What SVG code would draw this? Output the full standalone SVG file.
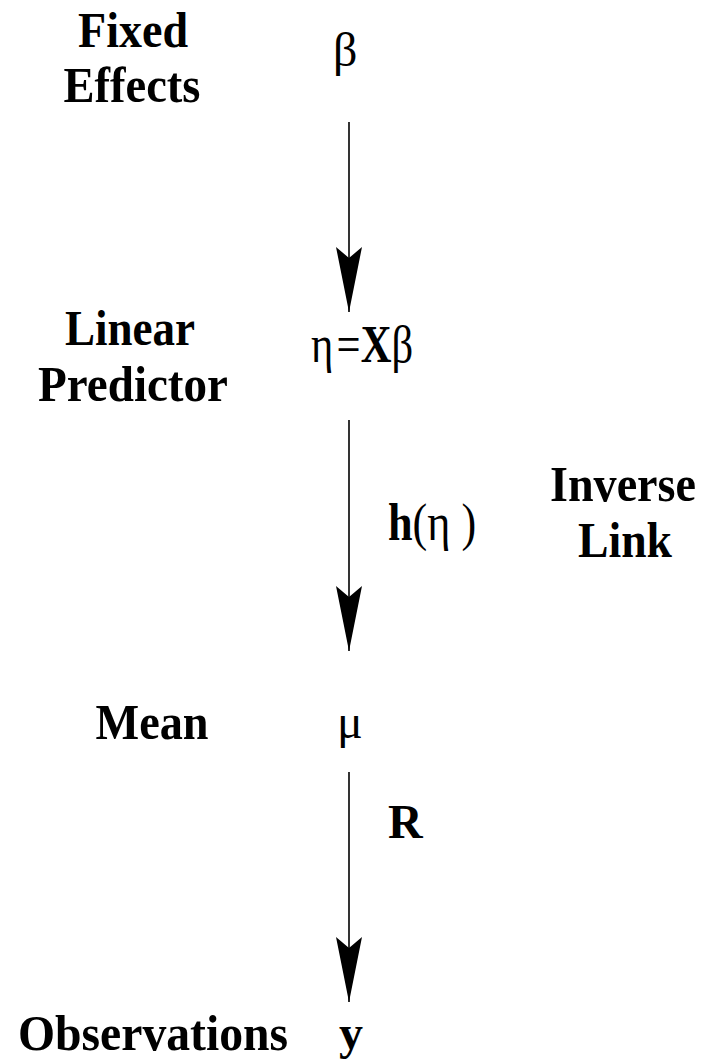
<svg xmlns="http://www.w3.org/2000/svg" width="706" height="1062" viewBox="0 0 706 1062">
<style>
.lbl{font-family:"Liberation Serif","Times New Roman",serif;font-weight:bold;font-size:50px;fill:#000;text-anchor:middle}
.sym{font-family:"Liberation Serif","Times New Roman",serif;font-size:48px;fill:#000}
.eq{font-family:"Liberation Serif","Times New Roman",serif;font-size:52px;fill:#000}
.b{font-weight:bold}
.conn{stroke:#000;stroke-width:1.6;fill:none;marker-end:url(#head)}
</style>
<defs>
<marker id="head" markerUnits="userSpaceOnUse" viewBox="0 -14 66 28" refX="65" refY="0" markerWidth="66" markerHeight="28" orient="auto">
<path d="M65,0 L0,-13 L11,0 L0,13 Z" fill="#000"/>
</marker>
</defs>
<rect width="706" height="1062" fill="#fff"/>
<g id="connectors">
<line class="conn" x1="349" y1="122" x2="349" y2="312"/>
<line class="conn" x1="349" y1="420" x2="349" y2="651"/>
<line class="conn" x1="349" y1="772" x2="349" y2="1002"/>
</g>
<g id="fixed-effects">
<text class="lbl" x="133" y="47" textLength="110" lengthAdjust="spacingAndGlyphs">Fixed</text>
<text class="lbl" x="132" y="102" textLength="137" lengthAdjust="spacingAndGlyphs">Effects</text>
<text class="sym" x="333" y="66">β</text>
</g>
<g id="linear-predictor">
<text class="lbl" x="130" y="345" textLength="130" lengthAdjust="spacingAndGlyphs">Linear</text>
<text class="lbl" x="133" y="401" textLength="190" lengthAdjust="spacingAndGlyphs">Predictor</text>
<text class="eq" transform="translate(311,362) scale(0.82,1)" x="0" y="0">η<tspan dx="4">=</tspan><tspan class="b">X</tspan>β</text>
</g>
<g id="inverse-link">
<text class="eq" transform="translate(388,540) scale(0.85,1)" x="0" y="0"><tspan class="b">h</tspan>(η )</text>
<text class="lbl" x="623" y="501" textLength="146" lengthAdjust="spacingAndGlyphs">Inverse</text>
<text class="lbl" x="625" y="557" textLength="94" lengthAdjust="spacingAndGlyphs">Link</text>
</g>
<g id="mean">
<text class="lbl" x="152" y="739" textLength="113" lengthAdjust="spacingAndGlyphs">Mean</text>
<text class="sym" x="337" y="738">μ</text>
</g>
<g id="r-label">
<text class="sym b" x="388" y="838">R</text>
</g>
<g id="observations">
<text class="lbl" x="153" y="1050" textLength="270" lengthAdjust="spacingAndGlyphs">Observations</text>
<text class="sym b" x="339" y="1049">y</text>
</g>
</svg>
